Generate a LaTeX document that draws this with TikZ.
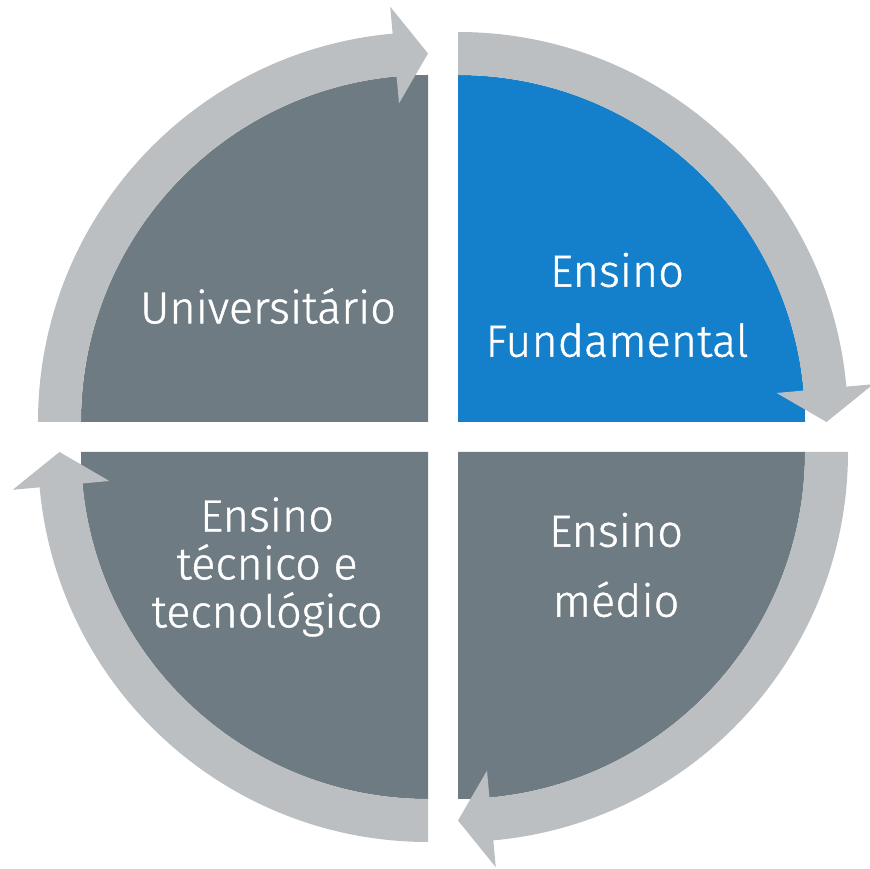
\documentclass[tikz,border=0pt]{standalone}
\usepackage{fontspec}
\setmainfont{Fira Sans Light}[FakeBold=1]
\usepackage{tikz}
\usetikzlibrary{calc}

\definecolor{sectorgray}{RGB}{111,123,130}
\definecolor{sectorblue}{RGB}{20,128,204}
\definecolor{bandgray}{RGB}{187,191,194}

\tikzset{
  lbl/.style={text=white, align=center, inner sep=0pt, font=\fontsize{45}{70}\selectfont},
}

\begin{document}
\begin{tikzpicture}[x=1pt,y=1pt]
\useasboundingbox (0,0) rectangle (870,868);
% quarter sectors, each with its curved arrow
\foreach \cx/\cy/\a/\col in {428/446/180/sectorgray, 458/446/90/sectorblue, 458/416/0/sectorgray, 428/416/270/sectorgray} {
  \begin{scope}[shift={(\cx,\cy)}]
    \fill[\col] (0,0) -- (\a:347) arc[start angle=\a, end angle=\a-90, radius=347] -- cycle;
    \fill[bandgray] (\a:390) arc[start angle=\a, end angle=\a-84.8, radius=390]
      -- ({\a-84.8}:417) -- ({\a-90}:368.5) -- ({\a-84.8}:320) -- ({\a-84.8}:347)
      arc[start angle=\a-84.8, end angle=\a, radius=347] -- cycle;
  \end{scope}
}

\node[lbl] (univ) at (268,562) {Universitário};
\node[lbl] (fund) at (617,563) {Ensino\\Fundamental};
\node[lbl] (medio) at (616,303) {Ensino\\médio};
\node[lbl, font=\fontsize{45}{48}\selectfont] (tecnico) at (267,301) {Ensino\\técnico e\\tecnológico};
\end{tikzpicture}
\end{document}
